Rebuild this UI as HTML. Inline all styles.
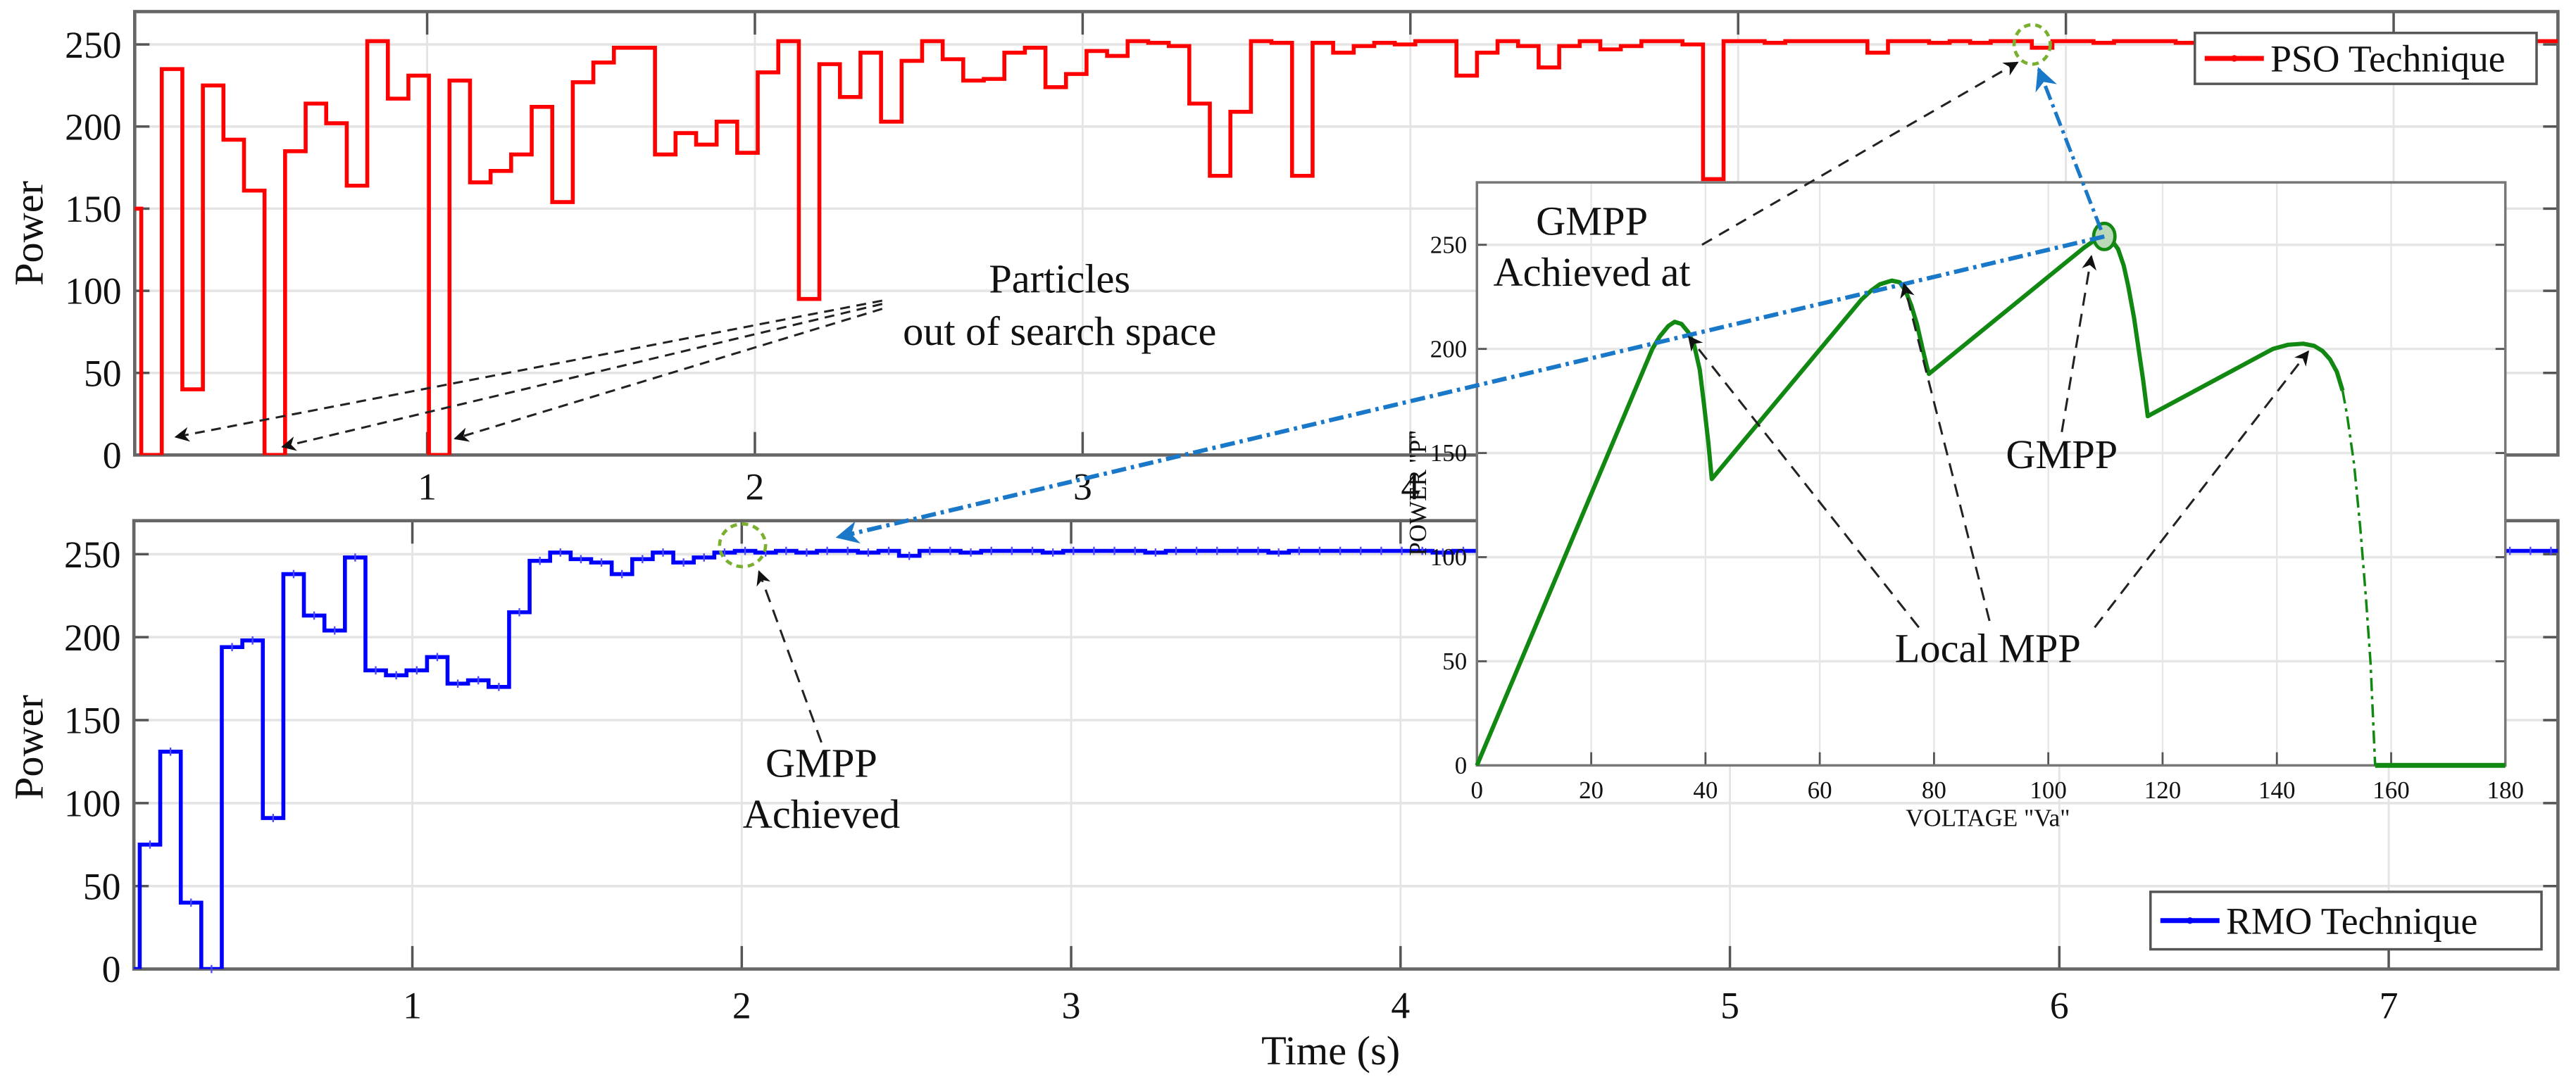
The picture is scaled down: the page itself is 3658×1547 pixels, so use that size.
<!DOCTYPE html>
<html><head><meta charset="utf-8"><style>
html,body{margin:0;padding:0;background:#fff}
svg{display:block}
text{font-family:"Liberation Serif",serif;fill:#111}
</style></head><body>
<svg id="chart" width="3658" height="1547" viewBox="0 0 1568 663" xmlns="http://www.w3.org/2000/svg">
<defs>
<marker id="ak" viewBox="0 0 10 10" refX="9" refY="5" markerWidth="9" markerHeight="9" orient="auto-start-reverse" markerUnits="userSpaceOnUse"><path d="M0,0 L10,5 L0,10 L3,5 z" fill="#111"/></marker>
<marker id="ab" viewBox="0 0 10 10" refX="9" refY="5" markerWidth="14" markerHeight="14" orient="auto-start-reverse" markerUnits="userSpaceOnUse"><path d="M0,0 L10,5 L0,10 L3,5 z" fill="#1a78c8"/></marker>
<clipPath id="clipTop"><rect x="82" y="7" width="1475" height="270"/></clipPath>
<clipPath id="clipBot"><rect x="81.5" y="317" width="1475.5" height="273"/></clipPath>
</defs>
<g id="layer"></g>
</svg>
<script>
// ---- data ----
const yTicks = [0, 50, 100, 150, 200, 250];
const xTickLabelsTop = [1, 2, 3, 4, 5, 6, 7];
const xTickLabelsBot = [1, 2, 3, 4, 5, 6, 7];
const psoStart = 0.065;
const psoStep = 0.0627;
const psoValues = [150,0,235,40,225,192,161,0,185,214,202,164,252,217,231,0,228,166,173,183,212,154,227,239,248,248,183,196,189,203,184,233,252,95,238,218,245,203,240,252,241,228,229,245,248,224,232,246,243,252,251,249,214,170,209,252,251,
170,251,245,249,251,250,252,252,231,245,252,249,236,249,252,247,249,252,252,250,168,
252,252,251,252,252,252,252,245,252,252,251,252,251,252,252,248,252,252,251,252,252,252,251,252,252,252,252,251,252,252,252,252,252,252,251,252,252,252,252,252,252];
const rmoStart = 0.11;
const rmoStep = 0.0623;
const rmoValues = [0,75,131,40,0,194,198,91,238,213,204,248,180,177,180,188,172,174,170,215,246,251,247,245,238,247,251,245,248,251,252,251,
252,251,252,252,251,252,249,252,252,251,252,252,252,251,252,252,252,252,251,252,252,252,252,252,251,252,252,252,252,252,252,252,251,252,252,252,252,252,252,252,252,252,251,252,252,252,252,252,252,252,252,252,252,252,252,252,252,252,252,252,252,252,252,252,252,252,252,252,252,252,252,252,252,252,252,252,252,252,252,252,252,252,252,252,252,252,252,252];
const pvVoltage = [0,30.7,32,33.5,34.6,35.8,37,38,39,39.8,40.5,41.1,
  67.3,69,70.5,72.6,74,75,76,77,78,78.7,79.1,
  106.2,108,109.8,111,112.2,113.2,114,115,115.8,116.6,117.4,
  139.3,142,144.6,146.5,148,149.3,150.5,151.5,152.3,153.5,154.6,155.6,156.4,157.2,180];
const pvPower   = [0,200,206,211,213,212,208,202,190,172,155,137.5,
  223.7,228,231,232.8,232,228,221,212,200,192,188,
  248.5,252,254,252.5,248,240,230,215,200,185,167.7,
  200,202,202.5,201.5,199,195,189,180,168,145,114,80,49,0,0];
const insetXTicks = [0,20,40,60,80,100,120,140,160,180];
const insetYTicks = [0,50,100,150,200,250];
const gmppV = 109.8, gmppP = 254;

// ---- axes functions ----
const xT = t => 60.5 + t*199.5, yT = v => 277 - v*1.0;
const xB = t => 50.5 + t*200.5, yB = v => 590 - v*1.0104;
const xI = V => 899 + V*3.478, yI = P => 466 - P*1.268;

const NS = "http://www.w3.org/2000/svg";
const root = document.getElementById('layer');
function mk(tag, attrs, parent, txt){
  const e = document.createElementNS(NS, tag);
  for (const k in attrs) e.setAttribute(k, attrs[k]);
  if (txt !== undefined) e.textContent = txt;
  (parent||root).appendChild(e);
  return e;
}

function panel(name, x0, x1, y0, y1, xf, yf, xticks, labelY){
  const g = mk('g', {});
  
  
  yTicks.forEach(v => {
    const l = mk('line', {x1:x0, x2:x1, y1:yf(v), y2:yf(v), stroke:'#e4e4e4', 'stroke-width':1.5}, g);
    
    
    mk('line', {x1:x0, x2:x0+9, y1:yf(v), y2:yf(v), stroke:'#555', 'stroke-width':1.5}, g);
    mk('line', {x1:x1-9, x2:x1, y1:yf(v), y2:yf(v), stroke:'#555', 'stroke-width':1.5}, g);
    const t = mk('text', {x:x0-8, y:yf(v)+8, 'font-size':23, 'text-anchor':'end'}, g, String(v));
    
    
  });
  xticks.forEach(tv => {
    const X = xf(tv);
    const l = mk('line', {x1:X, x2:X, y1:y0, y2:y1, stroke:'#e4e4e4', 'stroke-width':1.2}, g);
    
    
    mk('line', {x1:X, x2:X, y1:y1-14, y2:y1, stroke:'#555', 'stroke-width':1.5}, g);
    mk('line', {x1:X, x2:X, y1:y0, y2:y0+14, stroke:'#555', 'stroke-width':1.5}, g);
    const t = mk('text', {x:X, y:labelY, 'font-size':23, 'text-anchor':'middle'}, g, String(tv));
    
    
  });
  const r = mk('rect', {x:x0, y:y0, width:x1-x0, height:y1-y0, fill:'none', stroke:'#666', 'stroke-width':2}, g);
  
  
  return g;
}

function stepPath(start, step, vals, xf, yf){
  let d = '';
  vals.forEach((v, i) => {
    const a = xf(start + i*step), b = xf(start + (i+1)*step);
    d += (i === 0 ? 'M' : 'L') + a.toFixed(2) + ',' + yf(v).toFixed(2) + 'L' + b.toFixed(2) + ',' + yf(v).toFixed(2);
  });
  return d;
}

// ---- top panel (PSO) ----
panel('pso-panel', 82, 1557, 7, 277, xT, yT, xTickLabelsTop, 304);
const psoLine = mk('path', {d:stepPath(psoStart, psoStep, psoValues, xT, yT), fill:'none', stroke:'#ff0000', 'stroke-width':2.4, 'clip-path':'url(#clipTop)'});


const yl1 = mk('text', {x:0, y:0, 'font-size':25, 'text-anchor':'middle', transform:'translate(26,142) rotate(-90)'}, root, 'Power');



// ---- bottom panel (RMO) ----
panel('rmo-panel', 81.5, 1557, 317, 590, xB, yB, xTickLabelsBot, 620);
const rmoLine = mk('path', {d:stepPath(rmoStart, rmoStep, rmoValues, xB, yB), fill:'none', stroke:'#0000ff', 'stroke-width':2.4, 'clip-path':'url(#clipBot)'});


rmoValues.forEach((v, i) => {
  const X = xB(rmoStart + (i+0.5)*rmoStep);
  if (X < 82 || X > 1556) return;
  const m = mk('line', {x1:X, x2:X, y1:yB(v)-2.5, y2:yB(v)+2.5, stroke:'#4a4aff', 'stroke-width':1});
  
  
});
const yl2 = mk('text', {x:0, y:0, 'font-size':25, 'text-anchor':'middle', transform:'translate(26,455) rotate(-90)'}, root, 'Power');


const xl = mk('text', {x:810, y:648, 'font-size':25, 'text-anchor':'middle'}, root, 'Time (s)');



// ---- legends ----
function legend(name, x, y, w, h, color, label){
  const g = mk('g', {});
  
  
  mk('rect', {x:x, y:y, width:w, height:h, fill:'#fff', stroke:'#555', 'stroke-width':1.5}, g);
  mk('line', {x1:x+6, x2:x+42, y1:y+h/2, y2:y+h/2, stroke:color, 'stroke-width':3}, g);
  mk('circle', {cx:x+24, cy:y+h/2, r:2, fill:color}, g);
  mk('text', {x:x+46, y:y+h/2+8, 'font-size':23}, g, label);
}
legend('pso-legend', 1336, 20, 208, 31, '#ff0000', 'PSO Technique');
legend('rmo-legend', 1309, 543, 238, 35, '#0000ff', 'RMO Technique');

// ---- annotations ----
function arrow(name, x1, y1, x2, y2, color, dash, marker, w){
  const l = mk('line', {x1:x1, y1:y1, x2:x2, y2:y2, stroke:color, 'stroke-width':w||1.3, 'stroke-dasharray':dash, 'marker-end':'url(#'+marker+')'});
  
  
}
arrow('particle-arrow-1', 537, 183, 107, 266, '#222', '6,4', 'ak');
arrow('particle-arrow-2', 537, 185, 172, 272, '#222', '6,4', 'ak');
arrow('particle-arrow-3', 537, 188, 277, 267, '#222', '6,4', 'ak');
const p1 = mk('text', {x:645, y:178, 'font-size':25, 'text-anchor':'middle'}, root, 'Particles');


const p2 = mk('text', {x:645, y:210, 'font-size':25, 'text-anchor':'middle'}, root, 'out of search space');



const c1 = mk('ellipse', {cx:1237, cy:27, rx:11, ry:12, fill:'none', stroke:'#7ab030', 'stroke-width':2, 'stroke-dasharray':'4,3'});


const c2 = mk('ellipse', {cx:452, cy:332, rx:14, ry:13, fill:'none', stroke:'#7ab030', 'stroke-width':2, 'stroke-dasharray':'4,3'});


arrow('rmo-gmpp-arrow', 500, 452, 462, 348, '#222', '8,5', 'ak');
const g1 = mk('text', {x:500, y:473, 'font-size':25, 'text-anchor':'middle'}, root, 'GMPP');


const g2 = mk('text', {x:500, y:504, 'font-size':25, 'text-anchor':'middle'}, root, 'Achieved');



// ---- inset PV curve ----
const ins = mk('g', {});


mk('rect', {x:899, y:111, width:626, height:355, fill:'#fff'}, ins);
insetYTicks.forEach(v => {
  mk('line', {x1:899, x2:1525, y1:yI(v), y2:yI(v), stroke:'#e6e6e6', 'stroke-width':1.5}, ins);
  mk('line', {x1:1519, x2:1525, y1:yI(v), y2:yI(v), stroke:'#555', 'stroke-width':1.2}, ins);
  mk('line', {x1:899, x2:905, y1:yI(v), y2:yI(v), stroke:'#555', 'stroke-width':1.2}, ins);
  const t = mk('text', {x:893, y:yI(v)+5, 'font-size':15, 'text-anchor':'end', fill:'#333'}, ins, String(v));
  
  
});
insetXTicks.forEach(V => {
  mk('line', {x1:xI(V), x2:xI(V), y1:111, y2:466, stroke:'#e6e6e6', 'stroke-width':1}, ins);
  mk('line', {x1:xI(V), x2:xI(V), y1:458, y2:466, stroke:'#555', 'stroke-width':1.2}, ins);
  const t = mk('text', {x:xI(V), y:486, 'font-size':15, 'text-anchor':'middle', fill:'#333'}, ins, String(V));
  
  
});
mk('rect', {x:899, y:111, width:626, height:355, fill:'none', stroke:'#777', 'stroke-width':1.5}, ins);
const ixl = mk('text', {x:1210, y:503, 'font-size':15, 'text-anchor':'middle', fill:'#333'}, ins, 'VOLTAGE "Va"');


const iyl = mk('text', {x:0, y:0, 'font-size':15, 'text-anchor':'middle', fill:'#333', transform:'translate(868,300) rotate(-90)'}, ins, 'POWER "P"');


function pvPath(a, b){
  let d = '';
  for (let i = a; i <= b; i++) d += (i === a ? 'M' : 'L') + xI(pvVoltage[i]).toFixed(2) + ',' + yI(pvPower[i]).toFixed(2);
  return d;
}
const n = pvVoltage.length;
const pv1 = mk('path', {d:pvPath(0, n-8), fill:'none', stroke:'#118811', 'stroke-width':2.6, 'stroke-linejoin':'round'}, ins);


const pv2 = mk('path', {d:pvPath(n-8, n-2), fill:'none', stroke:'#118811', 'stroke-width':1.5, 'stroke-dasharray':'8,3,2,3'}, ins);


const pv3 = mk('path', {d:pvPath(n-2, n-1), fill:'none', stroke:'#118811', 'stroke-width':3}, ins);



const gx = xI(gmppV), gy = yI(gmppP);
arrow('blue-link-to-rmo', gx, gy, 510, 327, '#1a78c8', '9,3,2,3', 'ab', 2.6);
arrow('blue-link-to-pso', gx-2, gy-4, 1241, 42, '#1a78c8', '9,3,2,3', 'ab', 2.2);
const gc = mk('ellipse', {cx:gx, cy:gy, rx:6.5, ry:8, fill:'#b9d9b9', stroke:'#118811', 'stroke-width':2}, ins);



arrow('achieved-at-arrow', 1036, 149, 1228, 38, '#222', '7,5', 'ak');
arrow('gmpp-arrow', 1255, 263, 1273, 156, '#222', '8,5', 'ak');
arrow('local-mpp-arrow-1', 1168, 382, 1028, 205, '#222', '8,5', 'ak');
arrow('local-mpp-arrow-2', 1211, 378, 1159, 173, '#222', '8,5', 'ak');
arrow('local-mpp-arrow-3', 1275, 382, 1405, 214, '#222', '8,5', 'ak');
const a1 = mk('text', {x:969, y:143, 'font-size':25, 'text-anchor':'middle'}, root, 'GMPP');


const a2 = mk('text', {x:969, y:174, 'font-size':25, 'text-anchor':'middle'}, root, 'Achieved at');


const a3 = mk('text', {x:1255, y:285, 'font-size':25, 'text-anchor':'middle'}, root, 'GMPP');


const a4 = mk('text', {x:1210, y:403, 'font-size':25, 'text-anchor':'middle'}, root, 'Local MPP');


</script>
</body></html>
